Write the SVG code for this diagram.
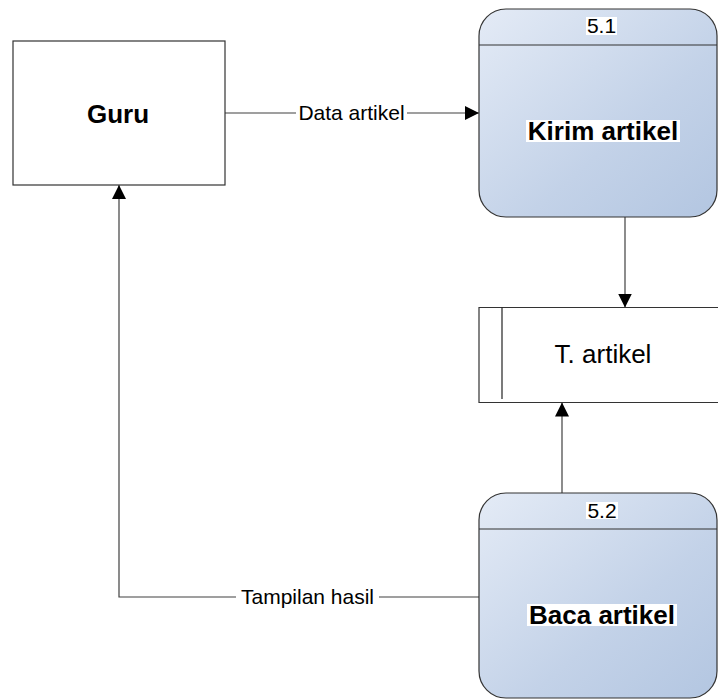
<svg xmlns="http://www.w3.org/2000/svg" width="718" height="700" viewBox="0 0 718 700">
<defs>
<linearGradient id="proc" x1="0" y1="0" x2="1" y2="1">
<stop offset="0" stop-color="#e4ebf6"/>
<stop offset="0.6" stop-color="#c3d2e8"/>
<stop offset="1" stop-color="#b3c6e1"/>
</linearGradient>
<marker id="arr" viewBox="0 0 14 14" refX="14" refY="7" markerWidth="14" markerHeight="14" markerUnits="userSpaceOnUse" orient="auto">
<path d="M0,0 L14,7 L0,14 Z" fill="#000"/>
</marker>
<style>
.box{fill:#fff;stroke:#333;stroke-width:1.2}
.proc{fill:url(#proc);stroke:#333;stroke-width:1.2}
.line{fill:none;stroke:#404040;stroke-width:1.2}
.lbl{font-family:"Liberation Sans",Arial,sans-serif;font-size:21px;fill:#000}
.title{font-family:"Liberation Sans",Arial,sans-serif;font-size:26px;font-weight:bold;fill:#000}
.hl{fill:#fff}
</style>
</defs>
<rect width="718" height="700" fill="#fff"/>
<g id="connectors">
<path class="line" d="M225,113 H479" marker-end="url(#arr)"/>
<rect class="hl" x="296" y="102" width="111" height="22"/>
<text class="lbl" x="351.5" y="120" text-anchor="middle">Data artikel</text>
<path class="line" d="M625,217 V307.5" marker-end="url(#arr)"/>
<path class="line" d="M562,493 V402.5" marker-end="url(#arr)"/>
<path class="line" d="M479,597 H119 V185" marker-end="url(#arr)"/>
<rect class="hl" x="236" y="586" width="143" height="23"/>
<text class="lbl" x="307.5" y="604" text-anchor="middle">Tampilan hasil</text>
</g>
<g id="guru">
<rect class="box" x="13" y="41" width="212" height="144"/>
<text class="title" x="118" y="122.5" text-anchor="middle">Guru</text>
</g>
<g id="p51">
<rect class="proc" x="479" y="9" width="238" height="208" rx="27" ry="27"/>
<line x1="479" y1="45" x2="717" y2="45" stroke="#333" stroke-width="1.2"/>
<rect class="hl" x="586" y="17" width="31" height="18"/>
<text class="lbl" x="601.5" y="33" text-anchor="middle">5.1</text>
<rect class="hl" x="526" y="120" width="154" height="22"/>
<text class="title" x="603" y="140" text-anchor="middle">Kirim artikel</text>
</g>
<g id="store">
<path d="M720,307.5 H479 V402.5 H720" fill="#fff" stroke="#333" stroke-width="1.2"/>
<line x1="502" y1="307.5" x2="502" y2="399" stroke="#222" stroke-width="1.2"/>
<text class="lbl" x="603" y="363" text-anchor="middle" style="font-size:26px">T. artikel</text>
</g>
<g id="p52">
<rect class="proc" x="479" y="493" width="238" height="205" rx="27" ry="27"/>
<line x1="479" y1="529" x2="717" y2="529" stroke="#333" stroke-width="1.2"/>
<rect class="hl" x="586" y="502" width="32" height="17"/>
<text class="lbl" x="602" y="517.5" text-anchor="middle">5.2</text>
<rect class="hl" x="527" y="604" width="150" height="22"/>
<text class="title" x="602" y="624" text-anchor="middle">Baca artikel</text>
</g>
</svg>
